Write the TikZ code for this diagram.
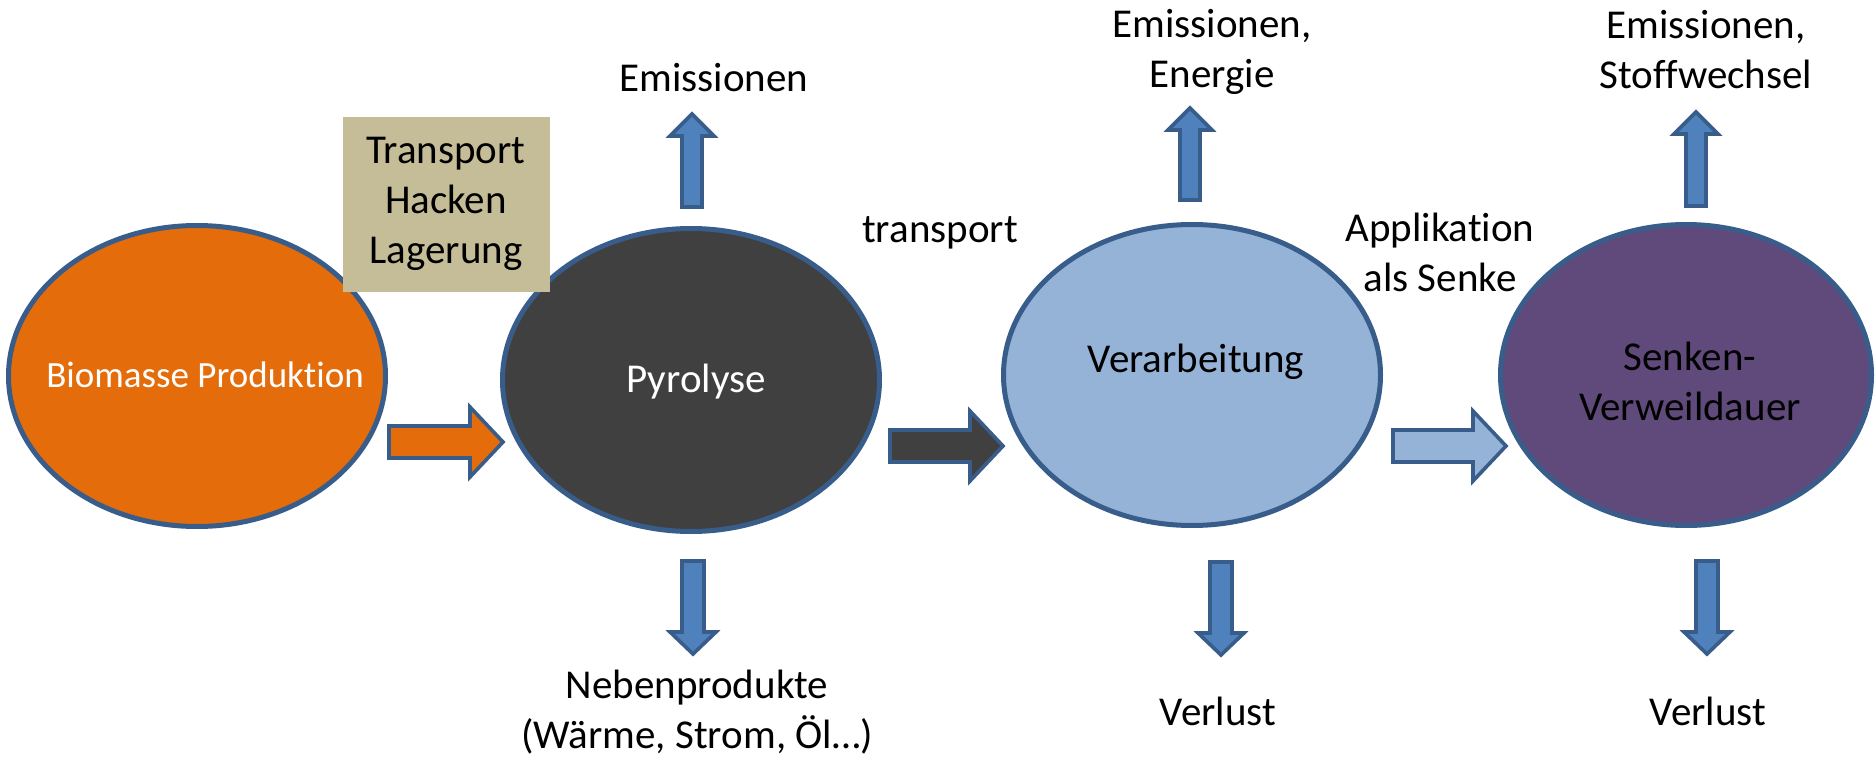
\documentclass[tikz,border=0pt]{standalone}
\usepackage{fontspec}
\setmainfont{Carlito}[Ligatures=NoCommon]
\usetikzlibrary{shapes.geometric}
\definecolor{orng}{HTML}{E46C0A}
\definecolor{darkg}{HTML}{404040}
\definecolor{lblue}{HTML}{95B3D7}
\definecolor{purp}{HTML}{604A7B}
\definecolor{outl}{HTML}{385D8A}
\definecolor{ablue}{HTML}{4F81BD}
\definecolor{tan}{HTML}{C4BD97}
\newcommand{\rblock}[4]{% x0, tip x, cy, fill
  \draw[barrow, fill=#4] (#1,#3-16) -- (#2-33,#3-16) -- (#2-33,#3-35) -- (#2,#3)
    -- (#2-33,#3+35) -- (#2-33,#3+16) -- (#1,#3+16) -- cycle;}
\newcommand{\ublock}[3]{% cx, bottom, tip
  \draw[barrow, fill=ablue] (#1-10,#2) -- (#1-10,#3+22) -- (#1-22,#3+22) -- (#1,#3)
    -- (#1+22,#3+22) -- (#1+10,#3+22) -- (#1+10,#2) -- cycle;}
\newcommand{\dblock}[3]{% cx, top, tip
  \draw[barrow, fill=ablue] (#1-11,#2) -- (#1-11,#3-22) -- (#1-23,#3-22) -- (#1,#3)
    -- (#1+23,#3-22) -- (#1+11,#3-22) -- (#1+11,#2) -- cycle;}
\begin{document}
\begin{tikzpicture}[x=0.5pt,y=-0.5pt,
  bubble/.style={ellipse, draw=outl, line width=2.5pt, inner sep=0pt},
  barrow/.style={draw=outl, line width=1.8pt, line join=miter},
  lbl/.style={align=center, inner sep=0pt, font=\fontsize{20.5}{25}\selectfont},
  ]
\useasboundingbox (0,0) rectangle (1876,760);
\fill[white] (0,0) rectangle (1876,760);
% ellipses
\node[bubble, fill=orng, minimum width=188.5pt, minimum height=150.5pt] (bio) at (197,376) {};
\node[bubble, fill=darkg, minimum width=188.5pt, minimum height=151.5pt] (pyro) at (691,380) {};
\node[bubble, fill=lblue, minimum width=188.5pt, minimum height=150.5pt] (verarb) at (1192,375) {};
\node[bubble, fill=purp, minimum width=185.5pt, minimum height=150.5pt] (senke) at (1686,375) {};
% texts in ellipses
\node[lbl, text=white, font=\fontsize{18.5}{22}\selectfont] (biot) at (205,375) {Biomasse Produktion};
\node[lbl, text=white] (pyrot) at (696,382) {Pyrolyse};
\node[lbl] (verarbt) at (1196,362) {Verarbeitung};
\node[lbl] (senket) at (1690,381) {Senken-\\Verweildauer};
% tan box
\node[fill=tan, minimum width=103.5pt, minimum height=87.5pt, inner sep=0pt] (box) at (446.5,204.5) {};
\node[lbl] (boxt) at (446,204) {Transport\\Hacken\\Lagerung};
% horizontal block arrows
\rblock{389}{503}{442}{orng}
\rblock{890}{1003}{446}{darkg}
\rblock{1393}{1506}{446}{lblue}
% up arrows
\ublock{692}{207}{114}
\ublock{1190}{200}{108}
\ublock{1696}{206}{112}
% down arrows
\dblock{693}{561}{654}
\dblock{1221}{562}{655}
\dblock{1707}{561}{654}
% labels
\node[lbl] (em1) at (714,78) {Emissionen};
\node[lbl] (em2) at (1212,52) {Emissionen,\\Energie};
\node[lbl] (em3) at (1706,50) {Emissionen,\\Stoffwechsel};
\node[lbl] (trans) at (940,233) {transport};
\node[lbl] (appl) at (1440,252) {Applikation\\als Senke};
\node[lbl] (neben) at (697,712) {Nebenprodukte\\(Wärme, Strom, Öl…)};
\node[lbl] (verl1) at (1218,711) {Verlust};
\node[lbl] (verl2) at (1708,711) {Verlust};
\end{tikzpicture}
\end{document}
